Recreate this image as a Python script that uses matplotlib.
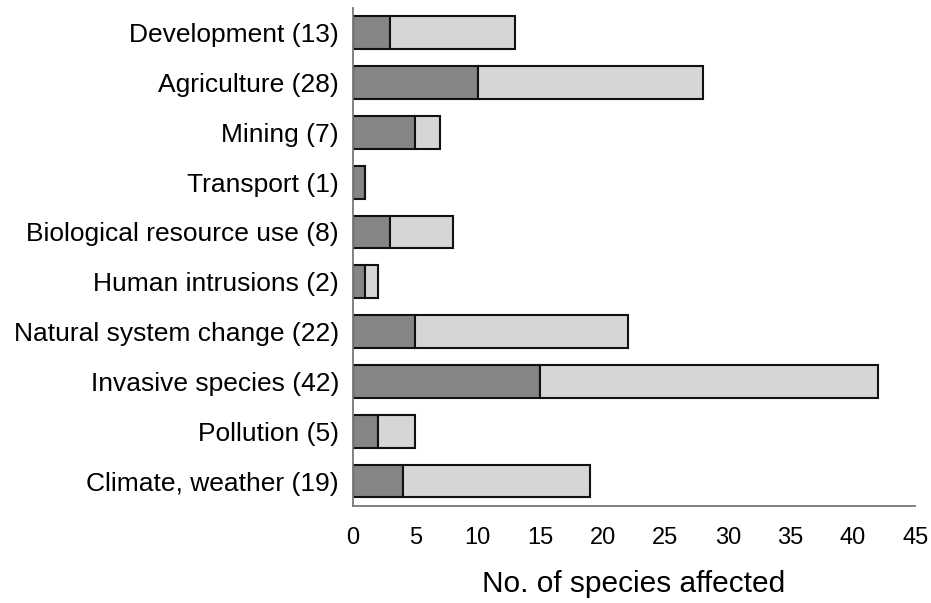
import numpy as np
import matplotlib
matplotlib.use('Agg')
import matplotlib.pyplot as plt

plt.rcParams['font.family'] = ['Liberation Sans', 'DejaVu Sans']

# threat categories, top to bottom
categories = ['Development (13)', 'Agriculture (28)', 'Mining (7)', 'Transport (1)',
              'Biological resource use (8)', 'Human intrusions (2)',
              'Natural system change (22)', 'Invasive species (42)',
              'Pollution (5)', 'Climate, weather (19)']
totals = [13, 28, 7, 1, 8, 2, 22, 42, 5, 19]
dark_part = [3, 10, 5, 1, 3, 1, 5, 15, 2, 4]
light_part = [t - d for t, d in zip(totals, dark_part)]
xticks = [0, 5, 10, 15, 20, 25, 30, 35, 40, 45]

fig = plt.figure(figsize=(9.31, 6.03), dpi=100)
ax = fig.add_axes([0.379, 0.161, 0.604, 0.826])

y = np.arange(len(categories))
ax.barh(y, dark_part, height=0.66, color='#858587', edgecolor='#111111', linewidth=1.5)
ax.barh(y, light_part, left=dark_part, height=0.66, color='#d5d6d8',
        edgecolor='#111111', linewidth=1.5)

ax.set_ylim(9.5, -0.5)
ax.set_xlim(0, 45)
ax.set_yticks(y)
ax.set_yticklabels(categories, fontsize=19)
ax.set_xticks(xticks)
ax.set_xticklabels([str(v) for v in xticks], fontsize=17)
ax.tick_params(axis='both', length=0)
ax.tick_params(axis='x', pad=15)
ax.tick_params(axis='y', pad=10)
ax.set_xlabel('No. of species affected', fontsize=21.5, labelpad=15)

ax.spines['top'].set_visible(False)
ax.spines['right'].set_visible(False)
ax.spines['left'].set_color('#777777')
ax.spines['bottom'].set_color('#777777')
ax.spines['left'].set_linewidth(1.3)
ax.spines['bottom'].set_linewidth(1.3)

fig.savefig('out.png', dpi=100)
